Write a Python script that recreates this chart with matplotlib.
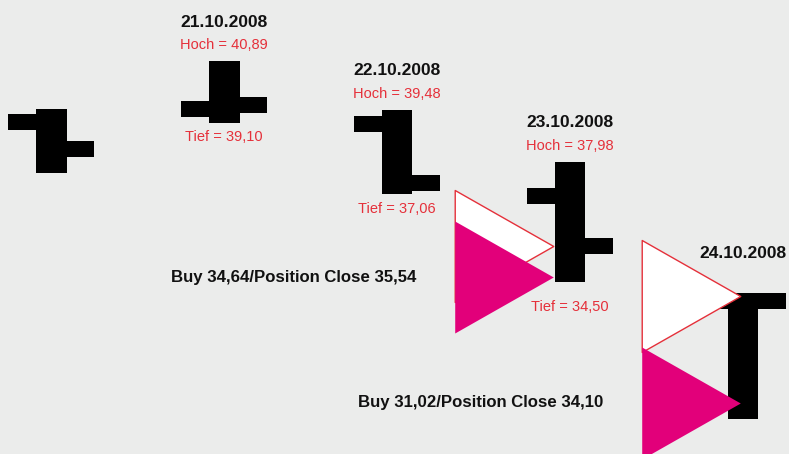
"""OHLC chart with buy / position close markers (21.10. - 24.10.2008)"""

import numpy as np
import matplotlib.pyplot as plt
from matplotlib import font_manager
from matplotlib.path import Path

# ---------------------------------------------------------------------------
# data
dates = ["20.10.2008", "21.10.2008", "22.10.2008", "23.10.2008", "24.10.2008"]
opens = [39.13, 39.51, 39.07, 36.99, 33.96]
highs = [39.51, 40.89, 39.48, 37.98, 34.19]
lows = [37.66, 39.10, 37.06, 34.50, 30.55]
closes = [38.35, 39.62, 37.37, 35.54, 33.96]

# which days get a date / Hoch / Tief label
date_label_days = [1, 2, 3, 4]
hoch_label_days = [1, 2, 3]
tief_label_days = [1, 2, 3]

# trades: day of the markers, buy price, position close price
trade_days = [3, 4]
buy_prices = [34.64, 31.02]
close_prices = [35.54, 34.10]

# ---------------------------------------------------------------------------
# style / layout
BG = "#ebeceb"
RED = "#e5303a"
MAGENTA = "#e2007a"
PX = 0.72                       # points per pixel at dpi 100

avail = {f.name for f in font_manager.fontManager.ttflist}
if "Liberation Sans Narrow" in avail:
    FONT, SCALE = "Liberation Sans Narrow", 1.0
else:
    # no condensed face installed: shrink a regular one to the same widths
    FONT, SCALE = "Liberation Sans", 0.86

BODY_W = 0.179                  # body width in day units
TICK_LEN = 0.25                 # open / close tick length in day units
TICK_LW = 16 * PX
MARKER_SHIFT = [-0.382, -0.301]
MARKER_SIZE = 112 * PX
tief_offsets = [-14, -15, -25]  # px below low

tri = Path([(-0.88, 1.0), (-0.88, -1.0), (0.88, 0.0), (-0.88, 1.0)],
           [Path.MOVETO, Path.LINETO, Path.LINETO, Path.CLOSEPOLY])

fig = plt.figure(figsize=(7.89, 4.54), dpi=100, facecolor=BG)
ax = fig.add_axes([0, 0, 1, 1])
ax.set_facecolor(BG)
ax.set_xlim(-0.295, 4.266)
ax.set_ylim(29.536, 42.657)
ax.axis("off")

x = np.arange(len(dates))

# open / close ticks
lc = ax.hlines(opens, x - TICK_LEN, x, colors="black", linewidth=TICK_LW, zorder=2)
lc.set_capstyle("butt")
lc = ax.hlines(closes, x, x + TICK_LEN, colors="black", linewidth=TICK_LW, zorder=2)
lc.set_capstyle("butt")

# high - low body
ax.bar(x, np.array(highs) - np.array(lows), bottom=lows, width=BODY_W,
       color="black", linewidth=0, zorder=3)

# labels above / below the bars
for d in date_label_days:
    ax.annotate(dates[d], (x[d], highs[d]), xytext=(0, 39 * PX), textcoords="offset points",
                ha="center", va="center", fontsize=14.5 * SCALE, fontweight="bold",
                family=FONT, color="#111111")
for d in hoch_label_days:
    ax.annotate("Hoch = " + f"{highs[d]:.2f}".replace(".", ","), (x[d], highs[d]),
                xytext=(0, 16 * PX), textcoords="offset points",
                ha="center", va="center", fontsize=12.3 * SCALE, family=FONT, color=RED)
for d, off in zip(tief_label_days, tief_offsets):
    ax.annotate("Tief = " + f"{lows[d]:.2f}".replace(".", ","), (x[d], lows[d]),
                xytext=(0, off * PX), textcoords="offset points",
                ha="center", va="center", fontsize=12.3 * SCALE, family=FONT, color=RED)

# trade markers
for d, shift, b, c in zip(trade_days, MARKER_SHIFT, buy_prices, close_prices):
    mx = x[d] + shift
    ax.plot(mx, c, marker=tri, markersize=MARKER_SIZE, markerfacecolor="white",
            markeredgecolor=RED, markeredgewidth=1, linestyle="none", zorder=4)
    ax.plot(mx, b, marker=tri, markersize=MARKER_SIZE, markerfacecolor=MAGENTA,
            markeredgewidth=0, linestyle="none", zorder=5)
    txt = "Buy " + f"{b:.2f}".replace(".", ",") + "/Position Close " + f"{c:.2f}".replace(".", ",")
    ax.annotate(txt, (mx, b), xytext=(-88 * PX, 0), textcoords="offset points",
                ha="right", va="center", fontsize=14 * SCALE, fontweight="bold",
                family=FONT, color="#111111")

fig.savefig("out.png", dpi=100, facecolor=BG)
